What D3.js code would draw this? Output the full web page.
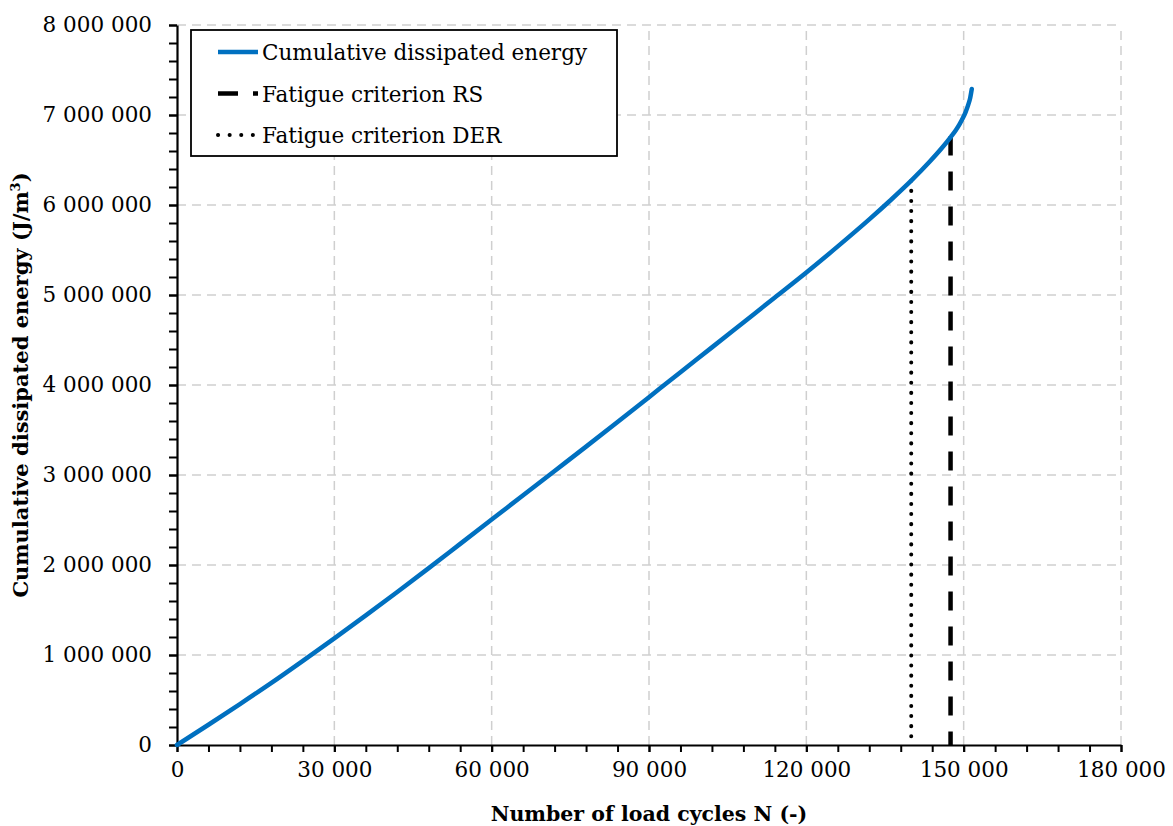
<!DOCTYPE html>
<html>
<head>
<meta charset="utf-8">
<script src="https://cdn.jsdelivr.net/npm/d3@7"></script>
<style>
  body { margin: 0; background: #fff; }
  svg text { font-family: "DejaVu Serif", serif; fill: #000; }
</style>
</head>
<body>
<svg id="chart" width="1173" height="826"></svg>
<script>
// load cycles N and cumulative dissipated energy (J/m3)
const cycles = [0, 6000, 12000, 18000, 24000, 30000, 36000, 42000, 48000, 54000,
   60000, 66000, 72000, 78000, 84000, 90000, 96000, 102000, 108000, 114000,
   120000, 126000, 132000, 136000, 140000, 143500, 145800, 147600, 148500,
   149200, 149800, 150350, 150850, 151250, 151550];
const energy = [0, 225000, 455000, 690000, 935000, 1185000, 1440000, 1700000, 1965000, 2235000,
   2505000, 2775000, 3045000, 3315000, 3588000, 3865000, 4142000, 4418000, 4695000, 4972000,
   5250000, 5540000, 5840000, 6050000, 6270000, 6480000, 6630000, 6760000, 6830000,
   6895000, 6960000, 7030000, 7110000, 7190000, 7290000];

// fatigue criteria: cycle count and energy where the vertical marker stops
const criterionRS = { n: 147500, e: 6760000 };
const criterionDER = { n: 140000, e: 6270000 };

const xTicks = [0, 30000, 60000, 90000, 120000, 150000, 180000];
const yTicks = [0, 1000000, 2000000, 3000000, 4000000, 5000000, 6000000, 7000000, 8000000];
const legendLabels = ['Cumulative dissipated energy', 'Fatigue criterion RS', 'Fatigue criterion DER'];

const blue = '#0070c0';
const margin = { left: 177, right: 52, top: 25, bottom: 81 };
const W = 1173, H = 826;

const svg = d3.select('#chart');

const x = d3.scaleLinear().domain([0, 180000]).range([margin.left, W - margin.right]);
const y = d3.scaleLinear().domain([0, 8000000]).range([H - margin.bottom, margin.top]);

// space as thousands separator: 8 000 000
const fmt = d => d3.format(',')(d).replace(/,/g, ' ');

// grid
svg.append('g')
   .selectAll('line')
   .data(xTicks.slice(1))
   .join('line')
   .attr('x1', d => x(d)).attr('x2', d => x(d))
   .attr('y1', y(0)).attr('y2', y(8000000))
   .style('stroke', '#cfcfcf')
   .style('stroke-width', 1.5)
   .style('stroke-dasharray', '9,6');

svg.append('g')
   .selectAll('line')
   .data(yTicks.slice(1))
   .join('line')
   .attr('x1', x(0)).attr('x2', x(180000))
   .attr('y1', d => y(d)).attr('y2', d => y(d))
   .style('stroke', '#cfcfcf')
   .style('stroke-width', 1.5)
   .style('stroke-dasharray', '9,6');

// minor ticks
svg.append('g')
   .attr('transform', `translate(0,${y(0)})`)
   .call(d3.axisBottom(x).tickValues(d3.range(0, 180001, 6000)).tickSize(7).tickFormat('').tickSizeOuter(0))
   .call(g => g.select('.domain').remove())
   .selectAll('line').style('stroke', '#000').style('stroke-width', 2);

svg.append('g')
   .attr('transform', `translate(${x(0)},0)`)
   .call(d3.axisLeft(y).tickValues(d3.range(0, 8000001, 200000)).tickSize(8).tickFormat('').tickSizeOuter(0))
   .call(g => g.select('.domain').remove())
   .selectAll('line').style('stroke', '#000').style('stroke-width', 2);

// main axes
let gx = svg.append('g')
   .attr('transform', `translate(0,${y(0)})`)
   .call(d3.axisBottom(x).tickValues(xTicks).tickFormat(fmt).tickSize(7).tickSizeOuter(0).tickPadding(10));
gx.selectAll('text').style('font-size', '21.5px').style('font-family', '"DejaVu Serif", serif');

let gy = svg.append('g')
   .attr('transform', `translate(${x(0)},0)`)
   .call(d3.axisLeft(y).tickValues(yTicks).tickFormat(fmt).tickSize(8).tickSizeOuter(0).tickPadding(17));
gy.selectAll('text').style('font-size', '21.5px').style('font-family', '"DejaVu Serif", serif');

[gx, gy].forEach(g => {
   g.select('.domain').style('stroke', '#000').style('stroke-width', 2.2);
   g.selectAll('line').style('stroke', '#000').style('stroke-width', 2);
});

// criterion markers
svg.append('line')
   .attr('x1', x(criterionDER.n)).attr('x2', x(criterionDER.n))
   .attr('y1', y(criterionDER.e)).attr('y2', y(0))
   .style('stroke', '#000')
   .style('stroke-width', 4)
   .style('stroke-linecap', 'round')
   .style('stroke-dasharray', '0.1,10');

svg.append('line')
   .attr('x1', x(criterionRS.n)).attr('x2', x(criterionRS.n))
   .attr('y1', y(criterionRS.e)).attr('y2', y(0))
   .style('stroke', '#000')
   .style('stroke-width', 4.5)
   .style('stroke-dasharray', '19,16');

// energy curve
let data = cycles.map((c, i) => [c, energy[i]]);
let line = d3.line().x(d => x(d[0])).y(d => y(d[1])).curve(d3.curveMonotoneX);

svg.append('path')
   .datum(data)
   .attr('d', line)
   .style('fill', 'none')
   .style('stroke', blue)
   .style('stroke-width', 4.5)
   .style('stroke-linecap', 'round');

// axis titles
svg.append('text')
   .attr('x', x(90000))
   .attr('y', 821)
   .attr('text-anchor', 'middle')
   .style('font-size', '20.5px')
   .style('font-weight', 'bold')
   .text('Number of load cycles N (-)');

let yt = svg.append('text')
   .attr('transform', `translate(28,${y(4000000)}) rotate(-90)`)
   .attr('text-anchor', 'middle')
   .style('font-size', '21px')
   .style('font-weight', 'bold');
yt.append('tspan').text('Cumulative dissipated energy (J/m');
yt.append('tspan').attr('dy', -8).style('font-size', '13px').text('3');
yt.append('tspan').attr('dy', 8).text(')');

// legend
let lg = svg.append('g');
lg.append('rect')
   .attr('x', 191).attr('y', 30)
   .attr('width', 426).attr('height', 126)
   .style('fill', '#fff')
   .style('stroke', '#000')
   .style('stroke-width', 1.8);

let styles = [
   { color: blue, width: 4.5, dash: null, cap: 'butt' },
   { color: '#000', width: 4.5, dash: '20,15', cap: 'butt' },
   { color: '#000', width: 4, dash: '0.1,11.5', cap: 'round' }
];

legendLabels.forEach((label, i) => {
   let ly = 52 + i * 41.5;
   lg.append('line')
      .attr('x1', 218).attr('x2', 258)
      .attr('y1', ly).attr('y2', ly)
      .style('stroke', styles[i].color)
      .style('stroke-width', styles[i].width)
      .style('stroke-linecap', styles[i].cap)
      .style('stroke-dasharray', styles[i].dash);
   lg.append('text')
      .attr('x', 262)
      .attr('y', ly + 8)
      .style('font-size', '21.5px')
      .text(label);
});
</script>
</body>
</html>
